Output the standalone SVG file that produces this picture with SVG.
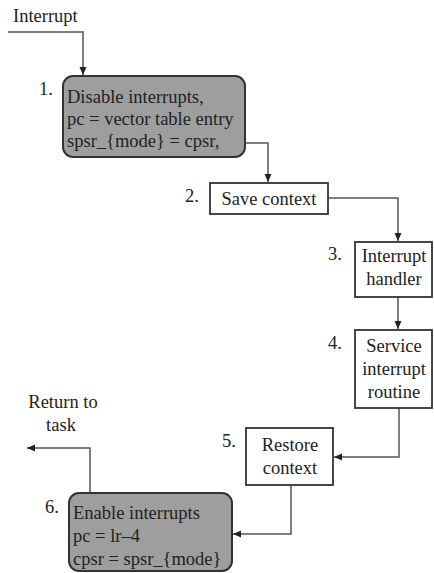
<svg xmlns="http://www.w3.org/2000/svg" width="434" height="573" viewBox="0 0 434 573">
<defs>
<marker id="ah" markerWidth="9" markerHeight="9" refX="8" refY="4.5" orient="auto" markerUnits="userSpaceOnUse">
<path d="M0,1 L8,4.5 L0,8 Z" fill="#222"/>
</marker>
<style>
text{font-family:"Liberation Serif","Times New Roman",serif;font-size:18.5px;fill:#222}
.g{fill:#9e9e9e;stroke:#333;stroke-width:2}
.w{fill:#fff;stroke:#333;stroke-width:1.8}
.c{fill:none;stroke:#555;stroke-width:1.5}
.m{text-anchor:middle}
</style>
</defs>
<rect width="434" height="573" fill="#fff"/>
<g id="connectors">
<path class="c" d="M8,32 H83 V75" marker-end="url(#ah)"/>
<path class="c" d="M245,143 H268 V182" marker-end="url(#ah)"/>
<path class="c" d="M328,198 H398 V241" marker-end="url(#ah)"/>
<path class="c" d="M398,297 V329" marker-end="url(#ah)"/>
<path class="c" d="M399,408 V457 H334" marker-end="url(#ah)"/>
<path class="c" d="M291,485 V534 H233" marker-end="url(#ah)"/>
<path class="c" d="M90,493 V448 H27" marker-end="url(#ah)"/>
</g>
<g id="label-interrupt"><text x="13" y="22">Interrupt</text></g>
<g id="label-return"><text x="63" y="408" class="m">Return to</text><text x="61" y="431" class="m">task</text></g>
<g id="n1">
<rect class="g" x="63" y="76" width="182" height="81" rx="10"/>
<text x="39" y="95">1.</text>
<text x="67" y="103">Disable interrupts,</text>
<text x="67" y="125">pc = vector table entry</text>
<text x="67" y="147">spsr_{mode} = cpsr,</text>
</g>
<g id="n2">
<rect class="w" x="210" y="183" width="118" height="31"/>
<text x="185" y="202">2.</text>
<text x="269" y="205" class="m">Save context</text>
</g>
<g id="n3">
<rect class="w" x="355" y="242" width="77" height="55"/>
<text x="328" y="260">3.</text>
<text x="394" y="262" class="m">Interrupt</text>
<text x="394" y="285" class="m">handler</text>
</g>
<g id="n4">
<rect class="w" x="355" y="330" width="77" height="78"/>
<text x="328" y="349">4.</text>
<text x="394" y="352" class="m">Service</text>
<text x="394" y="375" class="m">interrupt</text>
<text x="394" y="398" class="m">routine</text>
</g>
<g id="n5">
<rect class="w" x="246" y="428" width="87" height="57"/>
<text x="222" y="447">5.</text>
<text x="290" y="451" class="m">Restore</text>
<text x="290" y="474" class="m">context</text>
</g>
<g id="n6">
<rect class="g" x="69" y="493" width="163" height="78" rx="10"/>
<text x="45" y="513">6.</text>
<text x="73" y="519">Enable interrupts</text>
<text x="73" y="542">pc = lr–4</text>
<text x="73" y="565">cpsr = spsr_{mode}</text>
</g>
</svg>
